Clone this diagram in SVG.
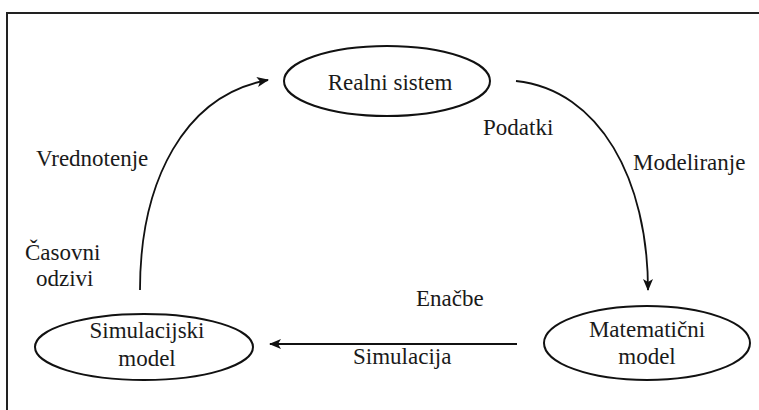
<svg xmlns="http://www.w3.org/2000/svg" width="759" height="410" viewBox="0 0 759 410">
  <style>
    .frame { fill: none; stroke: #222; stroke-width: 2; }
    .node { fill: #fff; stroke: #111; stroke-width: 2; }
    .lbl { font-family: 'Liberation Serif', 'Times New Roman', Times, 'DejaVu Serif', serif; font-size: 23px; fill: #1a1a1a; }
    .mid { text-anchor: middle; }
    .edge { fill: none; stroke: #111; stroke-width: 1.8; marker-end: url(#head); }
  </style>
  <defs>
    <marker id="head" viewBox="0 0 12 10" refX="11" refY="5" markerWidth="12" markerHeight="10" markerUnits="userSpaceOnUse" orient="auto">
      <path d="M0,0 L12,5 L0,10 L3,5 Z" fill="#111"/>
    </marker>
  </defs>

  <rect width="759" height="410" fill="#fff"/>
  <!-- page frame: top and left rule -->
  <path class="frame" d="M7,410 L7,13 L759,13"/>

  <!-- connectors -->
  <g id="connectors">
    <path class="edge" d="M140,290 C140,180 185,95 268,80"/>
    <path class="edge" d="M516,81 C600,90 648,180 648,290"/>
    <path class="edge" d="M517,344 L270,344"/>
  </g>

  <!-- edge labels -->
  <g id="labels">
    <text class="lbl" x="483" y="135">Podatki</text>
    <text class="lbl" x="633" y="170">Modeliranje</text>
    <text class="lbl" x="36" y="166">Vrednotenje</text>
    <text class="lbl" x="25" y="260">Časovni</text>
    <text class="lbl" x="36" y="286">odzivi</text>
    <text class="lbl" x="416" y="306">Enačbe</text>
    <text class="lbl" x="353" y="364">Simulacija</text>
  </g>

  <g id="realni-sistem">
    <ellipse class="node" cx="387" cy="81" rx="103" ry="35"/>
    <text class="lbl mid" x="390" y="90">Realni sistem</text>
  </g>

  <g id="simulacijski-model">
    <ellipse class="node" cx="144" cy="347" rx="109" ry="33"/>
    <text class="lbl mid" x="147" y="338">Simulacijski</text>
    <text class="lbl mid" x="147" y="366">model</text>
  </g>

  <g id="matematicni-model">
    <ellipse class="node" cx="647" cy="343" rx="103" ry="37"/>
    <text class="lbl mid" x="647" y="337">Matematični</text>
    <text class="lbl mid" x="647" y="364">model</text>
  </g>
</svg>
